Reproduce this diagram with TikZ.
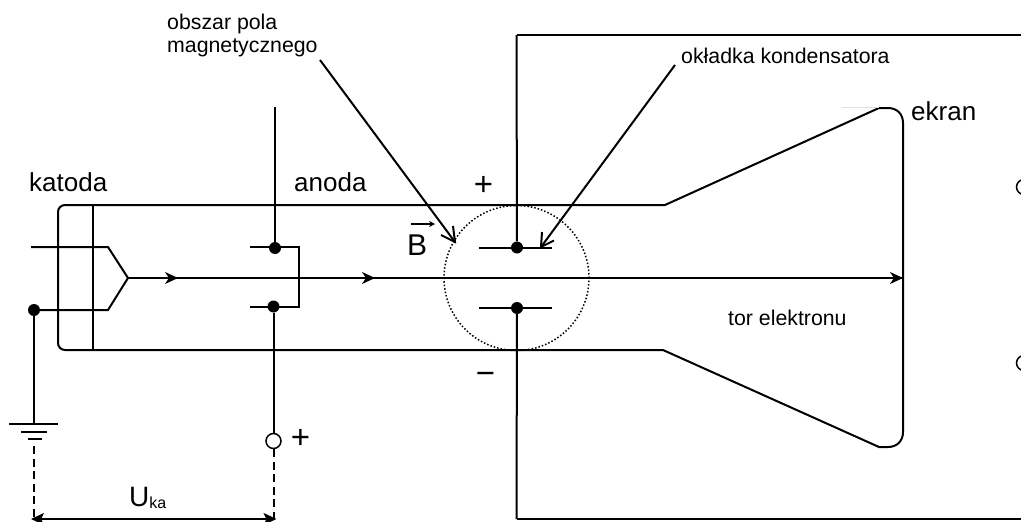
\documentclass[tikz,border=0pt]{standalone}
\usepackage{fontspec}
\setmainfont{Liberation Sans}
\usetikzlibrary{arrows.meta}
\tikzset{
  wire/.style={line width=2pt,black},
  thin wire/.style={line width=1.8pt,black},
  dash wire/.style={line width=2pt,dash pattern=on 8pt off 4.5pt},
  junction/.style={circle,fill=black,inner sep=0pt,minimum size=12pt},
  terminal/.style={circle,draw=black,line width=1.5pt,fill=white,inner sep=0pt,minimum size=15pt},
  big/.style={font=\fontsize{26}{30}\selectfont,inner sep=0pt,anchor=base west},
  small/.style={font=\fontsize{21.3}{23}\selectfont,inner sep=0pt,anchor=base west},
  sign/.style={font=\fontsize{33}{35}\selectfont,inner sep=0pt,anchor=center},
  beam tip/.style={-{Stealth[length=13pt,width=12pt,inset=4pt]}},
  pointer/.style={line width=2pt,miter limit=10},
}
\begin{document}
\begin{tikzpicture}[x=1pt,y=-1pt]
\clip (0,0) rectangle (1021,522);
\fill[white] (0,0) rectangle (1021,522);
% named points
\coordinate (fa) at (31,247); \coordinate (fb) at (108,247);
\coordinate (ftip) at (128,278); \coordinate (fc) at (108,310);
\coordinate (scr) at (903,278);
\coordinate (a1) at (178,278); \coordinate (a2) at (375,278);
\coordinate (anTop) at (275,107);
\coordinate (capTop) at (516.5,35); \coordinate (capBot) at (516.5,519);
\coordinate (frTR) at (1025,35); \coordinate (frBR) at (1025,519);
\coordinate (uL) at (34,519); \coordinate (uR) at (273.5,519);
% nodes
\node[junction] (kj) at (34,310) {};
\node[junction] (aj1) at (275,248) {};
\node[junction] (aj2) at (273.5,306.5) {};
\node[junction] (cj1) at (517,247.5) {};
\node[junction] (cj2) at (517,308) {};
\node[terminal] (t) at (273.5,441) {};
\node[terminal] (r1) at (1024,187) {};
\node[terminal] (r2) at (1024,363) {};
\node[circle,draw=black,line width=1.5pt,dash pattern=on 1.5pt off 2pt,minimum size=145pt,inner sep=0pt] (field) at (516.5,278) {};
% tube
\draw[wire,rounded corners=7pt] (665,205) -- (58,205) -- (58,350) -- (663,350);
\draw[wire] (665,205) -- (879,108) -- (888,108) .. controls (897,108) and (903,114) .. (903,123)
  -- (903,432) .. controls (903,441) and (897,447) .. (888,447) -- (879,447) -- (663,350);
\draw[line width=0.6pt,black!12] (842,107) -- (879,107);
% cathode
\draw[thin wire] (93,205) -- (93,350);
\draw[wire] (86,205) -- (100,205) (86,350) -- (100,350);
\draw[wire] (fa) -- (fb) -- (ftip) -- (fc) -- (kj);
\draw[wire] (kj) -- (34,423);
\draw[wire] (9,423.5) -- (58,423.5) (21,432) -- (47,432) (28,439) -- (42,439);
\draw[dash wire] (34,446) -- (uL);
% beam
\draw[wire] (ftip) -- (scr);
\draw[wire,beam tip] (ftip) -- (a1);
\draw[wire,beam tip] (ftip) -- (a2);
\draw[wire,beam tip] (ftip) -- (scr);
% anode
\draw[wire] (anTop) -- (aj1);
\draw[wire] (250,247) -- (299,247) -- (299,306.5) -- (250,306.5);
\draw[wire] (aj2) -- (t);
\draw[dash wire] (t) -- (uR);
\draw[line width=2pt,shorten <=-3pt,shorten >=-3pt,{Stealth[length=13pt,width=12pt,inset=3pt]}-{Stealth[length=13pt,width=12pt,inset=3pt]}] (uL) -- (uR);
% capacitor and frame
\draw[wire] (479,247.5) -- (552,247.5) (479,308) -- (552,308);
\draw[wire] (capTop) -- (cj1) (cj2) -- (capBot);
\draw[wire] (frTR) -- (capTop) (capBot) -- (frBR);
% texts
\node[small,align=left,anchor=base west] (tA) at (167,52) {obszar pola\\magnetycznego};
\coordinate (pA) at (320,60); \coordinate (pB) at (455,242);
\coordinate (pB1) at (441,235); \coordinate (pB2) at (453,226);
\draw[pointer] (pA) -- (pB);
\draw[pointer] (pB1) -- (pB) -- (pB2);
\node[small] (tB) at (681,63) {okładka kondensatora};
\coordinate (pC) at (675,65); \coordinate (pD) at (541,247);
\coordinate (pD1) at (542,232); \coordinate (pD2) at (554,240.5);
\draw[pointer] (pC) -- (pD);
\draw[pointer] (pD1) -- (pD) -- (pD2);
\node[small] (tC) at (728,325) {tor elektronu};
\node[big] (k) at (29,191) {katoda};
\node[big] (an) at (294,191) {anoda};
\node[big] (ek) at (911,120) {ekran};
\node[big,font=\fontsize{30}{32}\selectfont] (bB) at (407,255) {B};
\draw[line width=1.2pt,-{Stealth[length=6pt,width=6pt]}] (411,224) -- (435,224);
\node[sign] (pl) at (483.5,186) {+};
\node[sign] (pl2) at (300.5,438.5) {+};
\node[sign] (mn) at (485.5,378) {−};
\node[big,font=\fontsize{28}{30}\selectfont] (U) at (129,506) {U\fontsize{16}{18}\selectfont\raisebox{-2pt}{ka}};
\end{tikzpicture}
\end{document}
